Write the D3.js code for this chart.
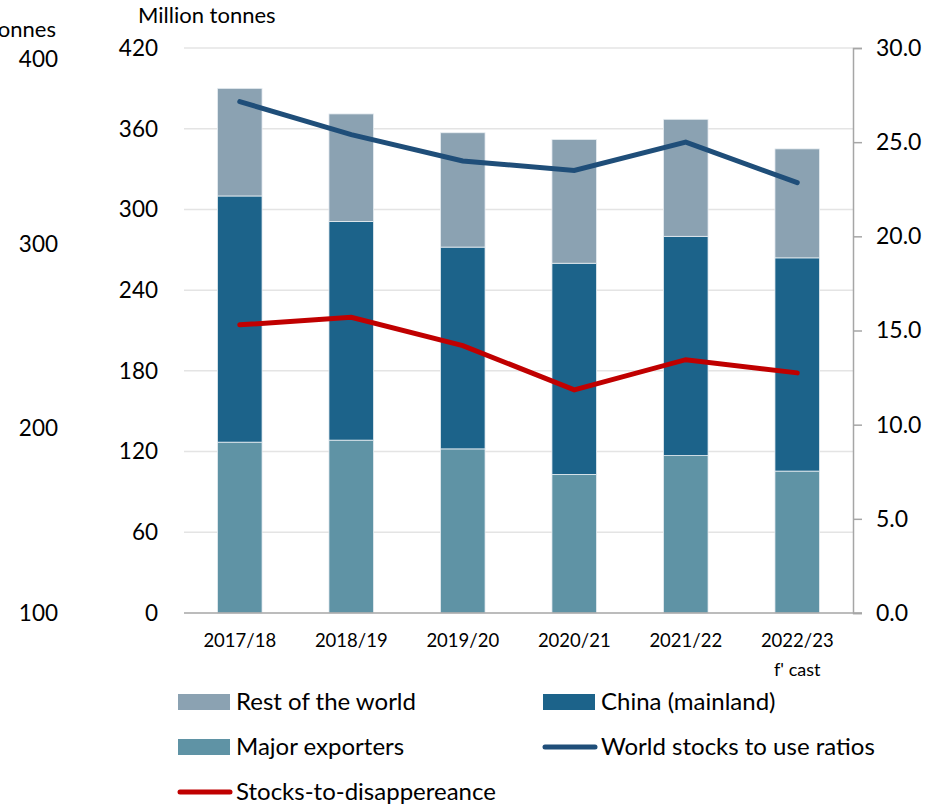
<!DOCTYPE html>
<html>
<head>
<meta charset="utf-8">
<script src="https://cdn.jsdelivr.net/npm/d3@7"></script>
<style>
  body { margin: 0; background: #fff; }
  svg text { font-family: Lato, "Open Sans", sans-serif; fill: #000; }
</style>
</head>
<body>
<svg id="chart" width="929" height="804"></svg>
<script>
// data
const seasons = ["2017/18", "2018/19", "2019/20", "2020/21", "2021/22", "2022/23"];
const majorExporters = [127, 128.5, 122, 103, 117, 105.5];
const china = [183, 162.5, 150, 157, 163, 158.5];
const restOfWorld = [80, 80, 85, 92, 87, 81];
const worldStocksRatio = [27.15, 25.4, 24.0, 23.5, 25.0, 22.85];
const stocksToDisappearance = [15.3, 15.7, 14.2, 11.85, 13.45, 12.75];
const leftTicks = [0, 60, 120, 180, 240, 300, 360, 420];
const rightTicks = [0, 5, 10, 15, 20, 25, 30];
const ghostTicks = [100, 200, 300, 400];

const seriesKeys = ["major", "china", "rest"];
const seriesColor = {major: "#5f93a5", china: "#1c638a", rest: "#8ba2b2"};

const margin = {left: 184, right: 853, top: 48, bottom: 613};

const svg = d3.select("#chart");

const x = d3.scaleBand().domain(seasons).range([margin.left, margin.right]).paddingInner(0.6).paddingOuter(0.3);
const yL = d3.scaleLinear().domain([0, 420]).range([margin.bottom, margin.top]);
const yR = d3.scaleLinear().domain([0, 30]).range([margin.bottom, margin.top]);
// stray axis left over on the far left of the original
const yGhost = d3.scaleLinear().domain([100, 400]).range([613, 59]);

// gridlines
svg.append("g")
  .selectAll("line")
  .data(leftTicks.filter(d => d > 0))
  .enter().append("line")
  .attr("x1", margin.left).attr("x2", margin.right)
  .attr("y1", d => yL(d)).attr("y2", d => yL(d))
  .style("stroke", "#e4e4e4")
  .style("stroke-width", 1.5);

// left axis labels
svg.append("g")
  .selectAll("text")
  .data(leftTicks)
  .enter().append("text")
  .attr("x", 158)
  .attr("y", d => yL(d))
  .attr("dy", "0.35em")
  .attr("text-anchor", "end")
  .style("font-size", "22.5px")
  .text(d => d);

svg.append("text")
  .attr("x", 138).attr("y", 23)
  .style("font-size", "22px")
  .text("Million tonnes");

// ghost axis
svg.append("text")
  .attr("x", 56).attr("y", 37)
  .attr("text-anchor", "end")
  .style("font-size", "22px")
  .text("Million tonnes");

svg.append("g")
  .selectAll("text")
  .data(ghostTicks)
  .enter().append("text")
  .attr("x", 58)
  .attr("y", d => yGhost(d))
  .attr("dy", "0.35em")
  .attr("text-anchor", "end")
  .style("font-size", "22.5px")
  .text(d => d);

// stacked bars
const table = seasons.map((s, i) => ({season: s, major: majorExporters[i], china: china[i], rest: restOfWorld[i]}));
const stacked = d3.stack().keys(seriesKeys)(table);

svg.append("g")
  .selectAll("g")
  .data(stacked)
  .enter().append("g")
  .style("fill", d => seriesColor[d.key])
  .selectAll("rect")
  .data(d => d)
  .enter().append("rect")
  .attr("x", d => x(d.data.season))
  .attr("width", x.bandwidth())
  .attr("y", d => yL(d[1]))
  .attr("height", d => yL(d[0]) - yL(d[1]))
  .style("stroke", "#e8eef2")
  .style("stroke-width", 0.8);

// bottom axis line
svg.append("line")
  .attr("x1", margin.left).attr("x2", margin.right + 9)
  .attr("y1", margin.bottom).attr("y2", margin.bottom)
  .style("stroke", "#a6a6a6").style("stroke-width", 1.5);

// right axis
const rightAxis = svg.append("g")
  .attr("transform", "translate(" + margin.right + ",0)")
  .call(d3.axisRight(yR).tickValues(rightTicks).tickSize(9).tickFormat(d3.format(".1f")));
rightAxis.select(".domain").style("stroke", "#a6a6a6").style("stroke-width", 1.5);
rightAxis.selectAll(".tick line").style("stroke", "#a6a6a6").style("stroke-width", 1.5);
rightAxis.selectAll(".tick text")
  .attr("x", 23)
  .style("font-size", "23px")
  .style("font-family", "Lato, sans-serif")
  .attr("fill", "#000");

// category labels
const catG = svg.append("g");
catG.selectAll("text")
  .data(seasons)
  .enter().append("text")
  .attr("x", d => x(d) + x.bandwidth() / 2)
  .attr("y", 641)
  .attr("dy", "0.35em")
  .attr("text-anchor", "middle")
  .style("font-size", "18.5px")
  .text(d => d);
catG.append("text")
  .attr("x", x(seasons[5]) + x.bandwidth() / 2)
  .attr("y", 670)
  .attr("dy", "0.35em")
  .attr("text-anchor", "middle")
  .style("font-size", "18px")
  .text("f' cast");

// lines
const cx = d => x(d) + x.bandwidth() / 2;
const ratioLine = d3.line().x((d, i) => cx(seasons[i])).y(d => yR(d));

svg.append("path")
  .datum(stocksToDisappearance)
  .attr("d", ratioLine)
  .style("fill", "none")
  .style("stroke", "#c00000")
  .style("stroke-width", 5)
  .style("stroke-linecap", "round");

svg.append("path")
  .datum(worldStocksRatio)
  .attr("d", ratioLine)
  .style("fill", "none")
  .style("stroke", "#1f4e79")
  .style("stroke-width", 5)
  .style("stroke-linecap", "round");

// legend
const legendItems = [
  {label: "Rest of the world", type: "rect", color: seriesColor.rest, x: 178, y: 702},
  {label: "China (mainland)", type: "rect", color: seriesColor.china, x: 543, y: 702},
  {label: "Major exporters", type: "rect", color: seriesColor.major, x: 178, y: 747},
  {label: "World stocks to use ratios", type: "line", color: "#1f4e79", x: 543, y: 747},
  {label: "Stocks-to-disappereance", type: "line", color: "#c00000", x: 178, y: 792}
];

const legend = svg.append("g").selectAll("g")
  .data(legendItems)
  .enter().append("g")
  .attr("transform", d => "translate(" + d.x + "," + d.y + ")");

legend.filter(d => d.type === "rect").append("rect")
  .attr("x", 0).attr("y", -8)
  .attr("width", 52).attr("height", 16)
  .style("fill", d => d.color);

legend.filter(d => d.type === "line").append("line")
  .attr("x1", 2).attr("x2", 52)
  .attr("y1", 0).attr("y2", 0)
  .style("stroke", d => d.color)
  .style("stroke-width", 5)
  .style("stroke-linecap", "round");

legend.append("text")
  .attr("x", 58)
  .attr("y", 0)
  .attr("dy", "0.35em")
  .style("font-size", "24px")
  .text(d => d.label);
</script>
</body>
</html>
